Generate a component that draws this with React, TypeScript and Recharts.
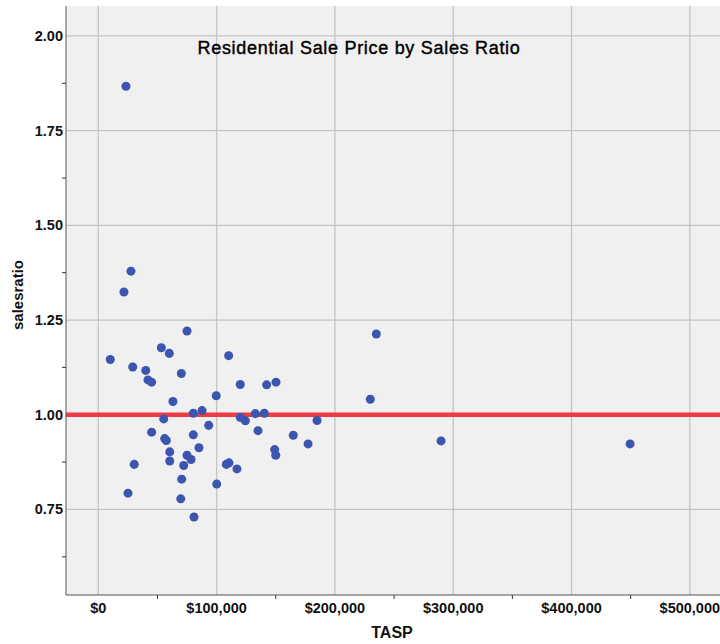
import React from 'react';
import { ScatterChart, Scatter, XAxis, YAxis, ZAxis, CartesianGrid, ReferenceLine } from 'recharts';

// TASP in dollars, sales ratio read point by point
const tasp = [
  23400, 27600, 21700, 75000, 10100, 53300, 60000, 29100, 40100, 42000,
  45100, 70200, 110200, 63100, 99700, 120000, 142300, 150200, 55300, 80300,
  87700, 120000, 124300, 132700, 140300, 184900, 93300, 45100, 80300, 135000,
  164800, 56100, 57500, 177300, 85100, 60400, 149100, 150000, 75000, 78400,
  60400, 30400, 72200, 108200, 110500, 117200, 70500, 100100, 25100, 69700,
  80900, 229900, 235000, 289700, 449500,
];
const salesRatio = [
  1.867, 1.379, 1.324, 1.221, 1.146, 1.177, 1.162, 1.126, 1.117, 1.092,
  1.086, 1.109, 1.156, 1.035, 1.05, 1.08, 1.079, 1.086, 0.989, 1.004,
  1.011, 0.993, 0.984, 1.003, 1.004, 0.985, 0.972, 0.954, 0.947, 0.958,
  0.946, 0.937, 0.932, 0.923, 0.913, 0.902, 0.908, 0.893, 0.893, 0.882,
  0.878, 0.869, 0.866, 0.869, 0.873, 0.857, 0.83, 0.817, 0.793, 0.778,
  0.73, 1.041, 1.213, 0.931, 0.923,
];

const xMajorTicks = [0, 100000, 200000, 300000, 400000, 500000];
const xMinorTicks = [50000, 150000, 250000, 350000, 450000];
const yMajorTicks = [0.75, 1.0, 1.25, 1.5, 1.75, 2.0];
const yMinorTicks = [0.625, 0.875, 1.125, 1.375, 1.625, 1.875];

const xDomain = [-27300, 525500];
const yDomain = [0.5242, 2.079];

const data = tasp.map((x, i) => ({ tasp: x, ratio: salesRatio[i] }));

const fmtMoney = (v: number) => '$' + v.toLocaleString('en-US');

const tickFont = { fontFamily: 'Arial, "Liberation Sans", sans-serif', fontWeight: 700, fontSize: 14.5, fill: '#111' };

const XTick = (props: any) => {
  const { x, y, payload } = props;
  const v = payload.value;
  if (xMinorTicks.includes(v)) {
    return <line x1={x} x2={x} y1={y - 4} y2={y} stroke="#333" strokeWidth={1} />;
  }
  return (
    <text x={x} y={y + 14} textAnchor="middle" style={tickFont}>
      {fmtMoney(v)}
    </text>
  );
};

const YTick = (props: any) => {
  const { x, y, payload } = props;
  const v = payload.value;
  if (yMinorTicks.includes(v)) {
    return <line x1={x} x2={x + 4} y1={y} y2={y} stroke="#333" strokeWidth={1} />;
  }
  return (
    <text x={x + 1} y={y + 5} textAnchor="end" style={tickFont}>
      {v.toFixed(2)}
    </text>
  );
};

export default function App() {
  return (
    <div style={{ position: 'absolute', left: 0, top: 0, width: 720, height: 644, overflow: 'hidden', background: '#fff' }}>
      <ScatterChart width={720} height={644} margin={{ top: 6, right: 0, bottom: 0, left: 0 }}>
        <CartesianGrid
          fill="#f0f0f0"
          stroke="#c4c4c4"
          strokeWidth={1.3}
          horizontalValues={yMajorTicks}
          verticalValues={xMajorTicks}
        />
        <XAxis
          xAxisId="top"
          orientation="top"
          type="number"
          dataKey="tasp"
          domain={xDomain}
          allowDataOverflow
          height={0}
          tick={false}
          tickLine={false}
          axisLine={{ stroke: '#555', strokeWidth: 1 }}
        />
        <XAxis
          type="number"
          dataKey="tasp"
          domain={xDomain}
          allowDataOverflow
          ticks={[...xMajorTicks, ...xMinorTicks].sort((a, b) => a - b)}
          interval={0}
          height={49}
          tickSize={4}
          tickMargin={0}
          tickLine={false}
          tick={<XTick />}
          axisLine={{ stroke: '#555', strokeWidth: 1 }}
          label={{
            content: () => (
              <text x={392} y={638} textAnchor="middle" style={{ ...tickFont, fontSize: 16 }}>
                TASP
              </text>
            ),
          }}
        />
        <YAxis
          type="number"
          dataKey="ratio"
          domain={yDomain}
          allowDataOverflow
          ticks={[...yMajorTicks, ...yMinorTicks].sort((a, b) => a - b)}
          interval={0}
          width={66}
          tickSize={4}
          tickMargin={0}
          tickLine={false}
          tick={<YTick />}
          axisLine={{ stroke: '#555', strokeWidth: 1 }}
          label={{
            content: () => (
              <text
                x={23}
                y={295}
                textAnchor="middle"
                transform="rotate(-90 23 295)"
                style={{ ...tickFont, fontSize: 15 }}
              >
                salesratio
              </text>
            ),
          }}
        />
        <ZAxis range={[58, 58]} />
        <ReferenceLine y={1} stroke="#ee3b44" strokeWidth={4.5} />
        <Scatter data={data} fill="#3c56b0" shape="circle" isAnimationActive={false} />
      </ScatterChart>
      <div
        style={{
          position: 'absolute',
          left: 0,
          width: 718,
          top: 39,
          textAlign: 'center',
          fontFamily: 'Arial, "Liberation Sans", sans-serif',
          fontSize: 18,
          lineHeight: '18px',
          letterSpacing: 0.7,
          color: '#000',
          WebkitTextStroke: '0.4px #000',
        }}
      >
        Residential Sale Price by Sales Ratio
      </div>
    </div>
  );
}
